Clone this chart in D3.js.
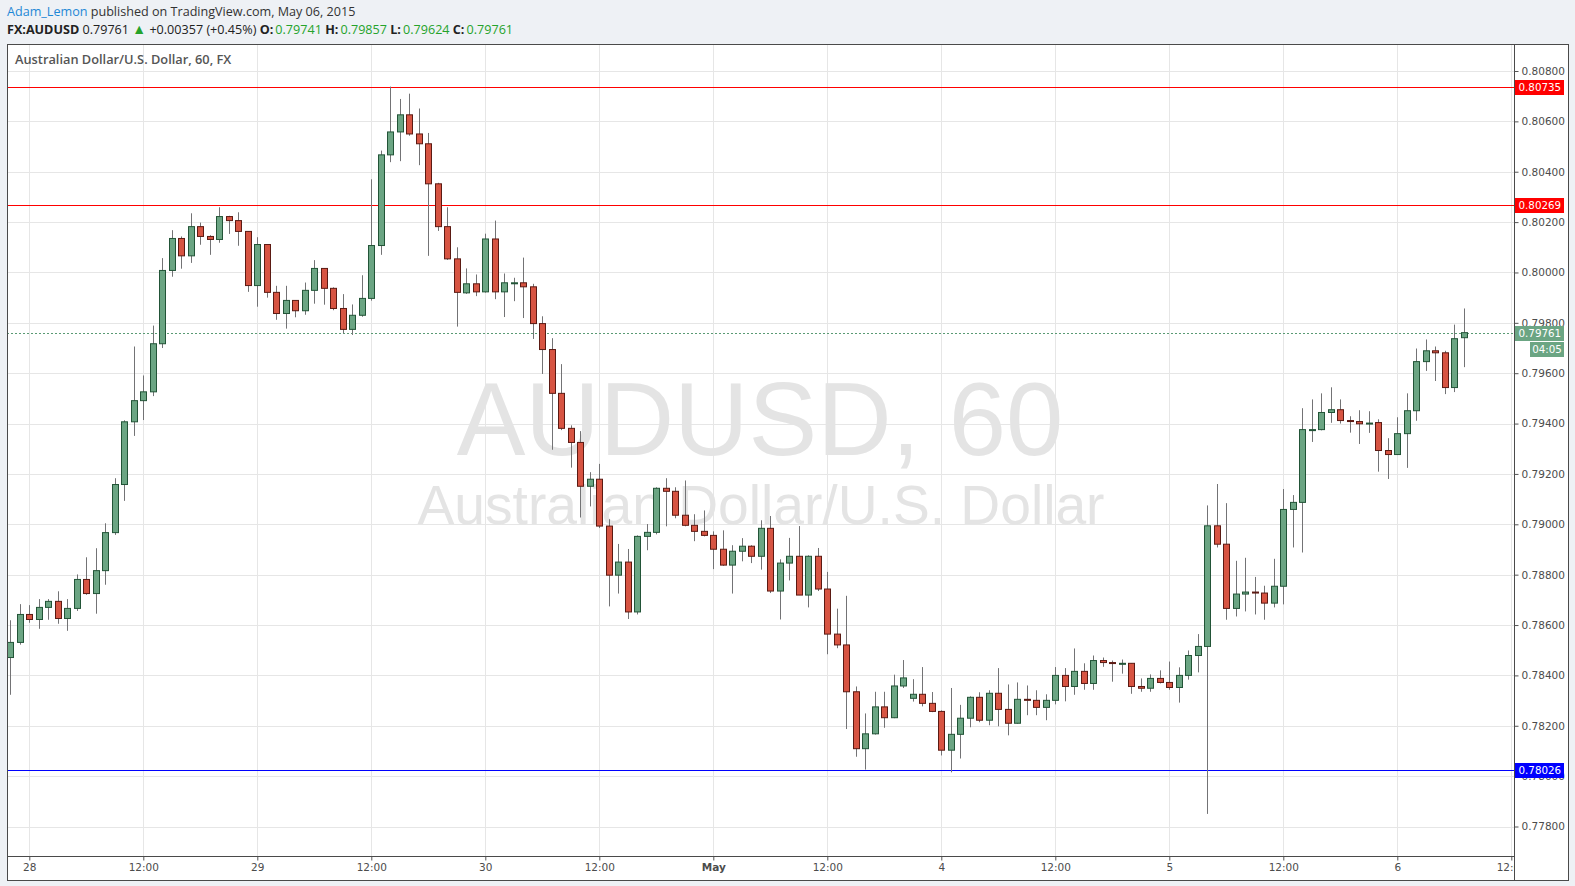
<!DOCTYPE html>
<html><head><meta charset="utf-8">
<script src="https://cdn.jsdelivr.net/npm/d3@7"></script>
<style>
html,body{margin:0;padding:0;overflow:hidden;background:#eef1f5;width:1575px;height:886px;}
svg{display:block;}
</style>
</head><body>
<svg id="c" width="1575" height="886"></svg>
<script>
// ---- DATA (hourly AUD/USD candles, Apr 27 22:00 -> May 6 07:00) ----
const openP = [.78471,.78531,.78642,.78622,.78670,.78694,.78626,.78666,.78781,.78725,.78816,.78967,.79158,.79407,.79491,.79526,.79717,.80008,.80135,.80066,.80182,.80143,.80131,.80222,.80206,.80163,.79948,.80111,.79921,.79837,.79889,.79848,.79929,.80016,.79937,.79857,.79774,.79830,.79897,.80107,.80467,.80558,.80626,.80550,.80511,.80352,.80182,.80054,.79919,.79955,.79923,.80133,.79923,.79957,.79959,.79943,.79797,.79694,.79520,.79381,.79325,.79151,.79179,.78993,.78798,.78850,.78652,.78952,.78968,.79143,.79131,.79036,.78996,.78972,.78956,.78901,.78838,.78893,.78913,.78873,.78984,.78735,.78846,.78873,.78719,.78873,.78743,.78564,.78521,.78335,.78109,.78168,.78275,.78232,.78358,.78309,.78325,.78289,.78257,.78103,.78166,.78230,.78313,.78222,.78329,.78265,.78210,.78305,.78301,.78273,.78301,.78400,.78356,.78416,.78368,.78459,.78451,.78447,.78448,.78356,.78349,.78388,.78372,.78352,.78400,.78479,.78515,.78994,.78921,.78666,.78723,.78731,.78727,.78687,.78754,.79059,.79087,.79375,.79376,.79444,.79455,.79412,.79408,.79399,.79404,.79293,.79277,.79360,.79451,.79646,.79689,.79681,.79543,.79741];
const highP = [.78619,.78683,.78679,.78703,.78703,.78734,.78703,.78801,.78869,.78905,.79004,.79183,.79413,.79706,.79591,.79789,.80057,.80168,.80143,.80235,.80198,.80148,.80259,.80225,.80239,.80163,.80140,.80111,.79947,.79947,.79889,.79960,.80049,.80016,.79941,.79914,.79873,.79989,.80370,.80484,.80738,.80689,.80710,.80651,.80554,.80356,.80259,.80100,.80016,.79992,.80154,.80206,.79996,.79979,.80059,.79955,.79826,.79739,.79636,.79393,.79370,.79207,.79240,.79020,.78922,.78902,.78956,.79001,.79147,.79183,.79147,.79174,.79040,.79055,.78972,.78976,.78917,.78945,.78917,.79016,.79033,.78861,.78946,.78993,.78877,.78906,.78811,.78665,.78716,.78356,.78249,.78335,.78335,.78403,.78461,.78385,.78433,.78334,.78261,.78350,.78283,.78317,.78333,.78341,.78429,.78364,.78372,.78360,.78341,.78325,.78433,.78429,.78507,.78448,.78479,.78471,.78459,.78463,.78448,.78388,.78404,.78420,.78455,.78432,.78499,.78564,.79075,.79160,.79084,.78855,.78867,.78791,.78756,.78863,.79140,.79116,.79461,.79496,.79520,.79544,.79496,.79429,.79453,.79449,.79417,.79342,.79425,.79520,.79698,.79734,.79706,.79689,.79793,.79857];
const lowP = [.78323,.78522,.78609,.78585,.78621,.78605,.78577,.78656,.78720,.78645,.78760,.78958,.79093,.79351,.79414,.79509,.79700,.79983,.80015,.80038,.80110,.80070,.80118,.80153,.80106,.79923,.79864,.79900,.79812,.79777,.79822,.79832,.79876,.79872,.79850,.79758,.79752,.79824,.79888,.80070,.80438,.80442,.80543,.80426,.80066,.80165,.80050,.79785,.79915,.79906,.79920,.79894,.79823,.79886,.79819,.79736,.79597,.79296,.79374,.79225,.79027,.79071,.78985,.78674,.78725,.78624,.78642,.78897,.78960,.78992,.79024,.78992,.78933,.78952,.78822,.78835,.78725,.78853,.78846,.78820,.78727,.78622,.78777,.78719,.78670,.78735,.78484,.78508,.78187,.78077,.78026,.78165,.78192,.78230,.78350,.78296,.78277,.78254,.78082,.78015,.78070,.78194,.78214,.78202,.78198,.78162,.78208,.78242,.78242,.78222,.78285,.78297,.78323,.78343,.78343,.78434,.78375,.78407,.78327,.78335,.78335,.78368,.78343,.78292,.78383,.78412,.77850,.78908,.78621,.78634,.78654,.78642,.78621,.78670,.78682,.78908,.78888,.79327,.79373,.79403,.79400,.79364,.79319,.79363,.79209,.79180,.79275,.79224,.79411,.79609,.79569,.79517,.79525,.79624];
const closeP = [.78531,.78642,.78622,.78670,.78694,.78626,.78666,.78781,.78725,.78816,.78967,.79158,.79407,.79491,.79526,.79717,.80008,.80135,.80066,.80182,.80143,.80131,.80222,.80206,.80163,.79948,.80111,.79921,.79837,.79889,.79848,.79929,.80016,.79937,.79857,.79774,.79830,.79897,.80107,.80467,.80558,.80626,.80550,.80511,.80352,.80182,.80054,.79921,.79955,.79923,.80133,.79923,.79959,.79959,.79943,.79797,.79694,.79520,.79381,.79325,.79151,.79179,.78993,.78798,.78850,.78652,.78952,.78968,.79143,.79131,.79036,.78996,.78972,.78956,.78901,.78838,.78893,.78913,.78873,.78984,.78735,.78846,.78873,.78719,.78873,.78743,.78564,.78521,.78335,.78109,.78168,.78275,.78232,.78358,.78390,.78325,.78289,.78257,.78103,.78166,.78230,.78313,.78222,.78329,.78265,.78210,.78305,.78301,.78273,.78301,.78400,.78356,.78416,.78368,.78459,.78451,.78448,.78448,.78356,.78349,.78388,.78372,.78352,.78400,.78479,.78515,.78994,.78921,.78666,.78723,.78731,.78727,.78687,.78754,.79059,.79087,.79376,.79376,.79444,.79455,.79412,.79408,.79399,.79402,.79293,.79277,.79360,.79451,.79646,.79689,.79681,.79543,.79737,.79761];

const timeTickIndex = [2,14,26,38,50,62,74,86,98,110,122,134,146,158];
const timeTickLabels = ["28","12:00","29","12:00","30","12:00","May","12:00","4","12:00","5","12:00","6","12:00"];
const priceTicks = [0.778,0.780,0.782,0.784,0.786,0.788,0.790,0.792,0.794,0.796,0.798,0.800,0.802,0.804,0.806,0.808];
const levelValues = [0.80735, 0.80269, 0.78026];
const levelColors = ["#ff0000", "#ff0000", "#0000ff"];
const lastPrice = 0.79761;
const countdown = "04:05";

// ---- LAYOUT ----
const svg = d3.select("#c");
const L = 7, T = 44, R = 1514, B = 856, OR = 1568, OB = 880;
const x = d3.scaleLinear().domain([2, 146]).range([29.3, 1397.3]);
const y = d3.scaleLinear().domain([0.778, 0.808]).range([826.5, 71]);
const fmt = d3.format(".5f");
const axisFont = "'DejaVu Sans', Verdana, sans-serif";
const uiFont = "'Open Sans', 'Noto Sans', sans-serif";

svg.append("rect").attr("x",0).attr("y",0).attr("width",1575).attr("height",886).attr("fill","#eef1f5");
svg.append("rect").attr("x",L+0.5).attr("y",T+0.5).attr("width",OR-L).attr("height",OB-T).attr("fill","#fff").attr("stroke","#4a4a4a");

const defs = svg.append("defs");
defs.append("clipPath").attr("id","plot").append("rect").attr("x",L+1).attr("y",T+1).attr("width",R-L-1).attr("height",B-T-1);
defs.append("clipPath").attr("id","taxis").append("rect").attr("x",L+1).attr("y",B).attr("width",R-L-1).attr("height",OB-B);

const plot = svg.append("g").attr("clip-path","url(#plot)");

// grid
plot.append("g").selectAll("line").data(timeTickIndex).join("line")
  .attr("x1",d=>Math.round(x(d))+0.5).attr("x2",d=>Math.round(x(d))+0.5)
  .attr("y1",T).attr("y2",B).attr("stroke","#e6e6e6");
plot.append("g").selectAll("line").data(priceTicks).join("line")
  .attr("x1",L).attr("x2",R).attr("y1",d=>Math.round(y(d))+0.5).attr("y2",d=>Math.round(y(d))+0.5)
  .attr("stroke","#e6e6e6");

// watermark
plot.append("text").attr("x",760).attr("y",455).attr("text-anchor","middle")
  .attr("font-family","'Liberation Sans', Arial, sans-serif").attr("font-size",103).attr("fill","#e4e4e4")
  .text("AUDUSD, 60");
plot.append("text").attr("x",761).attr("y",524).attr("text-anchor","middle")
  .attr("font-family","'Liberation Sans', Arial, sans-serif").attr("font-size",55.2).attr("fill","#e4e4e4")
  .text("Australian Dollar/U.S. Dollar");

// title
svg.append("text").attr("x",15).attr("y",64).attr("font-family",uiFont).attr("font-weight",600)
  .attr("font-size",12.8).attr("fill","#555").text("Australian Dollar/U.S. Dollar, 60, FX");

// level lines
plot.append("g").selectAll("line").data(levelValues).join("line")
  .attr("x1",L).attr("x2",R).attr("y1",d=>Math.round(y(d))+0.5).attr("y2",d=>Math.round(y(d))+0.5)
  .attr("stroke",(d,i)=>levelColors[i]).attr("stroke-width",1);

// last price dotted line
plot.append("line").attr("x1",L).attr("x2",R)
  .attr("y1",Math.round(y(lastPrice))+0.5).attr("y2",Math.round(y(lastPrice))+0.5)
  .attr("stroke","#5a9a74").attr("stroke-dasharray","2,2");

// candles
const idx = d3.range(openP.length);
const cg = plot.append("g");
cg.selectAll("line").data(idx).join("line")
  .attr("x1",i=>Math.round(x(i))+0.5).attr("x2",i=>Math.round(x(i))+0.5)
  .attr("y1",i=>y(highP[i])).attr("y2",i=>y(lowP[i]))
  .attr("stroke","#737375").attr("stroke-width",1);
cg.selectAll("rect").data(idx).join("rect")
  .attr("x",i=>Math.round(x(i))-2.5).attr("width",6)
  .attr("y",i=>y(Math.max(openP[i],closeP[i])))
  .attr("height",i=>Math.max(1, Math.abs(y(openP[i])-y(closeP[i]))))
  .attr("fill",i=>closeP[i]>=openP[i]?"#6ba583":"#d75442")
  .attr("stroke",i=>closeP[i]>=openP[i]?"#225437":"#5b1a13")
  .attr("stroke-width",1);

// separators
svg.append("line").attr("x1",L).attr("x2",R+0.5).attr("y1",B+0.5).attr("y2",B+0.5).attr("stroke","#4a4a4a");
svg.append("line").attr("x1",R+0.5).attr("x2",R+0.5).attr("y1",T).attr("y2",OB).attr("stroke","#4a4a4a");

// price axis
const yAxis = d3.axisRight(y).tickValues(priceTicks).tickFormat(fmt).tickSize(4).tickPadding(3);
const ya = svg.append("g").attr("transform",`translate(${R+0.5},0)`).call(yAxis);
ya.select(".domain").remove();
ya.selectAll("line").attr("stroke","#555");
ya.selectAll("text").attr("font-family",axisFont).attr("font-size",10.5).attr("fill","#4c4c4c");

// time axis
const xAxis = d3.axisBottom(x).tickValues(timeTickIndex).tickFormat((d,i)=>timeTickLabels[i]).tickSize(4).tickPadding(3);
const xa = svg.append("g").attr("clip-path","url(#taxis)").append("g").attr("transform",`translate(0,${B+0.5})`).call(xAxis);
xa.select(".domain").remove();
xa.selectAll("line").attr("stroke","#555");
xa.selectAll("text").attr("font-family",axisFont).attr("font-size",10.5).attr("fill","#4c4c4c")
  .attr("font-weight",(d,i)=>timeTickLabels[i]==="May"?"bold":"normal");

// price tags on axis
const tags = levelValues.map((v,i)=>({v, c:levelColors[i], t:fmt(v)}));
tags.push({v:lastPrice, c:"#6ba583", t:fmt(lastPrice)});
const tg = svg.append("g");
tags.forEach(d=>{
  const yy = Math.round(y(d.v));
  tg.append("rect").attr("x",R+1).attr("y",yy-7).attr("width",49).attr("height",15).attr("fill",d.c);
  tg.append("text").attr("x",R+4.5).attr("y",yy+4).attr("font-family",axisFont).attr("font-size",10.3)
    .attr("fill","#fff").text(d.t);
});
{
  const yy = Math.round(y(lastPrice))+16;
  tg.append("rect").attr("x",R+16).attr("y",yy-7).attr("width",34).attr("height",15).attr("fill","#6ba583");
  tg.append("text").attr("x",R+33).attr("y",yy+4).attr("text-anchor","middle").attr("font-family",axisFont)
    .attr("font-size",10.3).attr("fill","#fff").text(countdown);
}

// header
const h1 = svg.append("text").attr("x",7).attr("y",16).attr("font-family",uiFont).attr("font-size",12.6).attr("fill","#333");
h1.append("tspan").attr("fill","#1e88d6").text("Adam_Lemon");
h1.append("tspan").text(" published on TradingView.com, May 06, 2015");

const openLast = openP[openP.length-1], highLast = highP[highP.length-1], lowLast = lowP[lowP.length-1];
const chg = 0.00357, chgPct = 0.45;
const h2 = svg.append("text").attr("x",7).attr("y",34).attr("font-family",uiFont).attr("font-size",12.6).attr("fill","#222");
h2.append("tspan").attr("font-weight","bold").text("FX:AUDUSD");
h2.append("tspan").text(" " + fmt(lastPrice) + " ");
h2.append("tspan").attr("fill","#25a32b").attr("font-size",14).text("\u25B2");
h2.append("tspan").text(" +" + fmt(chg) + " (+" + chgPct.toFixed(2) + "%) ");
[["O:",openLast],["H:",highLast],["L:",lowLast],["C:",lastPrice]].forEach(([k,v])=>{
  h2.append("tspan").attr("font-weight","bold").text(" " + k + "\u2009");
  h2.append("tspan").attr("fill","#25a32b").text(fmt(v));
});
</script>
</body></html>
